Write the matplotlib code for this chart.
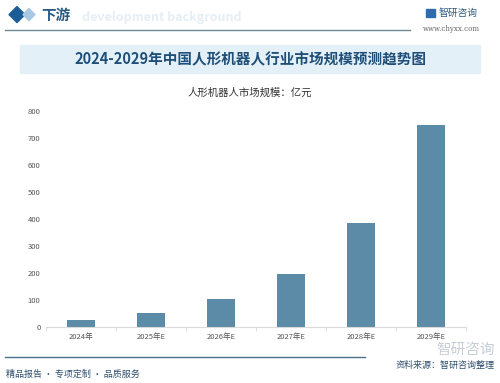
import matplotlib.pyplot as plt
from matplotlib.patches import Rectangle, Polygon

plt.rcParams['font.family'] = ['Noto Sans CJK SC', 'DejaVu Sans']

years = ["2024年", "2025年E", "2026年E", "2027年E", "2028年E", "2029年E"]
market = [26, 53, 103, 197, 388, 750]
yticks = [0, 100, 200, 300, 400, 500, 600, 700, 800]

bar_color = "#5b8ba6"
dark_blue = "#1f4f78"

fig = plt.figure(figsize=(5, 3.83), dpi=100)

# header ------------------------------------------------
fig.patches.append(Polygon([[0.018, 0.962], [0.034, 0.983], [0.050, 0.962], [0.034, 0.941]],
                           closed=True, transform=fig.transFigure, color="#1c5d96"))
fig.patches.append(Polygon([[0.046, 0.962], [0.058, 0.978], [0.070, 0.962], [0.058, 0.946]],
                           closed=True, transform=fig.transFigure, color="#a9c8e4"))
fig.text(0.082, 0.962, "下游", fontsize=10.5, fontweight="bold", color="#2a5b85", va="center")
fig.text(0.165, 0.955, "development background", fontsize=9, fontweight="bold",
         color="#e6eef5", va="center", zorder=0)
fig.add_artist(plt.Line2D([0.01, 0.82], [0.922, 0.922], color="#6f8797", lw=1.0))
fig.text(0.877, 0.966, "智研咨询", fontsize=7, color="#2a5b85", va="center")
fig.patches.append(Rectangle((0.852, 0.955), 0.018, 0.022, transform=fig.transFigure,
                             color="#2a6db0"))
fig.text(0.845, 0.923, "www.chyxx.com", fontsize=5, color="#666666", va="center",
         family="DejaVu Serif")

# title band
fig.patches.append(Rectangle((0.04, 0.81), 0.92, 0.073, transform=fig.transFigure,
                             color="#e4f0f8", zorder=0))
fig.text(0.5, 0.845, "2024-2029年中国人形机器人行业市场规模预测趋势图", fontsize=10.5,
         fontweight="bold", color=dark_blue, ha="center", va="center")
fig.text(0.5, 0.759, "人形机器人市场规模：亿元", fontsize=7.5, color="#333333",
         ha="center", va="center")

# chart -------------------------------------------------
ax = fig.add_axes([0.092, 0.146, 0.84, 0.563])
x = range(len(years))
ax.bar(x, market, width=0.4, color=bar_color, zorder=2)
ax.set_xlim(-0.5, len(years) - 0.5)
ax.set_ylim(0, 800)
ax.set_yticks(yticks)
ax.set_xticks(list(x))
ax.set_xticklabels(years)
ax.set_xticks([i + 0.5 for i in range(-1, len(years))], minor=True)
ax.tick_params(axis="y", length=0, labelsize=5.5, labelcolor="#555555", pad=4)
ax.tick_params(axis="x", which="major", length=0, labelsize=5.5, labelcolor="#555555", pad=4)
ax.tick_params(axis="x", which="minor", length=3, color="#d9d9d9")
for s in ["top", "right", "left"]:
    ax.spines[s].set_visible(False)
ax.spines["bottom"].set_color("#d9d9d9")
ax.patch.set_alpha(0)

# footer ------------------------------------------------
fig.add_artist(plt.Line2D([0.01, 0.73], [0.068, 0.068], color="#4c6f8a", lw=1.0))
fig.text(0.012, 0.022, "精品报告 · 专项定制 · 品质服务", fontsize=6.5, color="#2f4f6f", va="center")
fig.text(0.99, 0.045, "资料来源：智研咨询整理", fontsize=6.5, color="#2f4f6f",
         ha="right", va="center")
fig.text(0.99, 0.104, "智研咨询", fontsize=10.5, color="#b9c2cb", ha="right", va="top",
         zorder=0, alpha=0.8)

fig.savefig("out.png", dpi=100)
